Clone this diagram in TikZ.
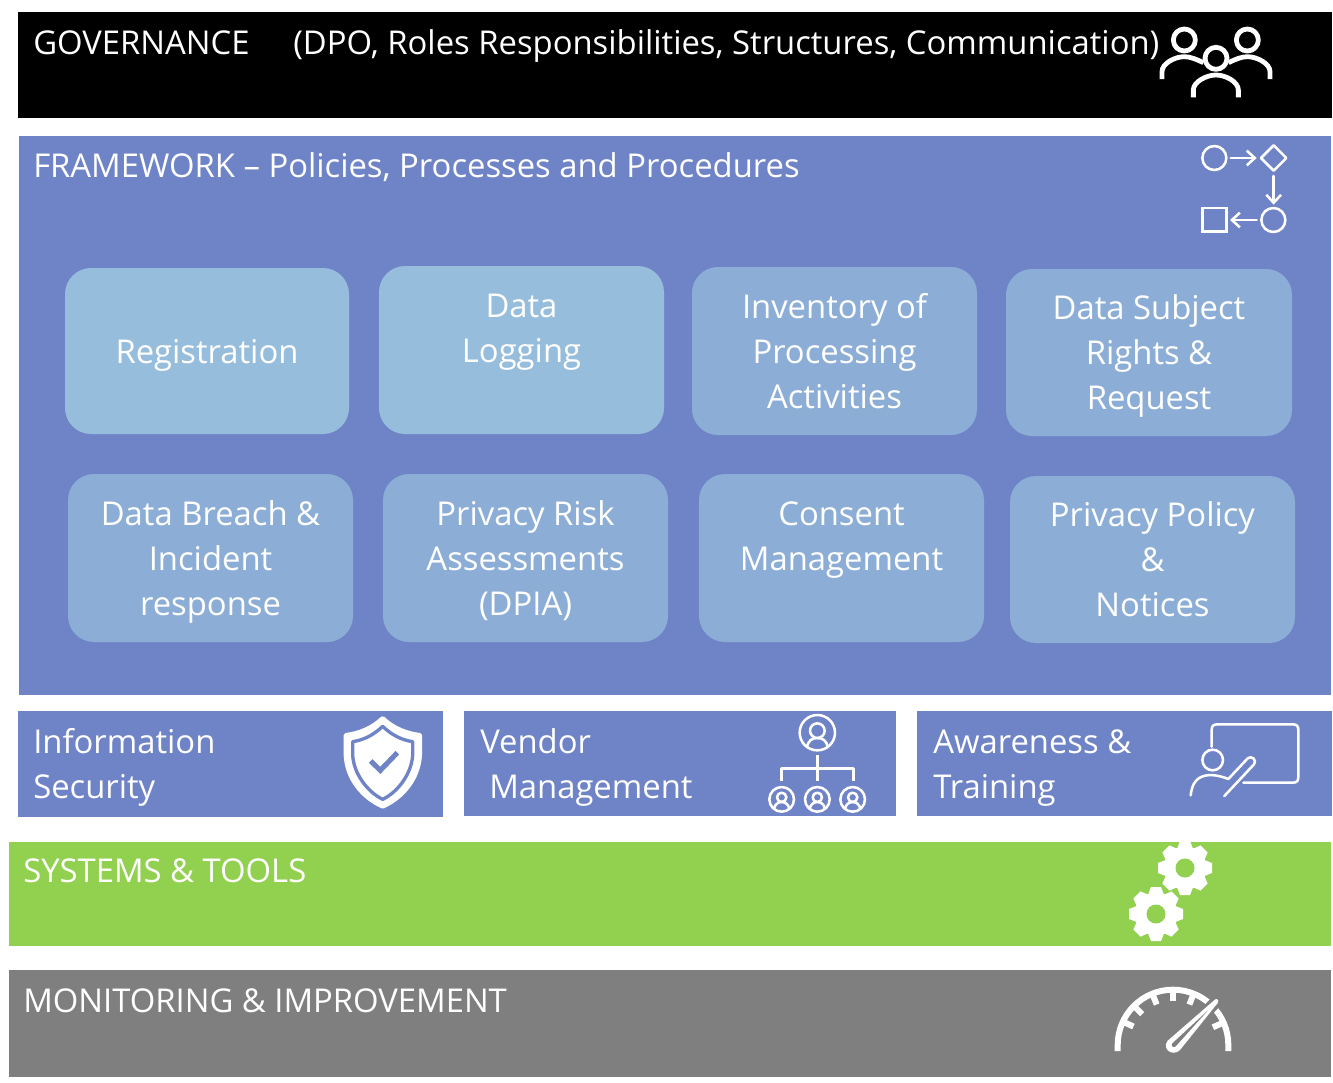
\documentclass[tikz,border=0pt]{standalone}
\usepackage{fontspec}
\setmainfont{Open Sans}
\usetikzlibrary{arrows.meta}
\definecolor{fw}{HTML}{6F83C7}
\definecolor{boxa}{HTML}{97BDDC}
\definecolor{boxb}{HTML}{8CAED6}
\definecolor{grn}{HTML}{92D050}
\definecolor{gry}{HTML}{7F7F7F}
\newcommand{\txt}{\fontsize{24.6}{33.75}\selectfont}
\newcommand{\st}{\vrule height 24pt depth 6pt width 0pt\relax}
\tikzset{
  bar/.style={draw=none,inner sep=0,anchor=north west,text=white},
  tile/.style={draw=none,inner sep=0,rounded corners=19.5pt,text=white,align=center,font=\txt,fill=boxb},
  lab/.style={inner sep=0,anchor=base west,text=white,font=\txt},
  lab2/.style={inner sep=0,anchor=west,text=white,font=\txt,align=left},
  icon/.style={draw=white,line width=1.9pt,line cap=round,line join=round},
  zoomA/.style={shift={(#1)},scale=0.33333},
  barb/.style={-{Straight Barb[length=6pt,width=11pt]}},
}
\newcommand{\mybar}[6]{% name, x1, y1, x2, y2, color
  \fill[#6] (#2,#3) rectangle (#4,#5);
  \coordinate (#1) at (#2,#3);}
\newcommand{\tile}[7]{% name x1 y1 x2 y2 color text
  \pgfmathsetmacro{\cx}{(#2+#4)/2}\pgfmathsetmacro{\cy}{(#3+#5)/2}
  \pgfmathsetmacro{\ww}{(#4-#2)*0.75}\pgfmathsetmacro{\hh}{(#5-#3)*0.75}
  \node[tile,fill=#6,minimum width=\ww pt,minimum height=\hh pt] (#1) at (\cx,\cy) {#7};}
\newcommand{\gear}[3]{% x y bg
  \begin{scope}[shift={(#1,#2)}]
    \fill[white] (0,0) circle (21.5);
    \foreach \a in {0,45,...,315}{
      \fill[white,rotate=\a] (18,-8.5) -- (27,-5) -- (27,5) -- (18,8.5) -- cycle;}
    \fill[#3] (0,0) circle (9.5);
  \end{scope}}
\begin{document}
\begin{tikzpicture}[x=0.75pt,y=-0.75pt]
\useasboundingbox (0,0) rectangle (1333,1082);
\fill[white] (0,0) rectangle (1333,1082);
% bars
\mybar{gov}{18}{12}{1332}{118}{black}
\mybar{frame}{19}{136}{1331}{695}{fw}
\mybar{sec}{18}{711}{443}{817}{fw}
\mybar{ven}{464}{711}{896}{816}{fw}
\mybar{awa}{917}{711}{1332}{816}{fw}
\mybar{sys}{9}{842}{1331}{946}{grn}
\mybar{mon}{9}{970}{1331}{1077}{gry}
% bar labels
\node[lab] (t1) at (33,54) {GOVERNANCE};
\node[lab] (t2) at (293,54) {(DPO, Roles Responsibilities, Structures, Communication)};
\node[lab] (t3) at (33,177) {FRAMEWORK – Policies, Processes and Procedures};
\node[lab2] (t4) at (33,763.5) {\st Information\\Security\st};
\node[lab2] (t5) at (480,763.5) {\st Vendor\\\hspace{6.75pt}Management\st};
\node[lab2] (t6) at (933,763.5) {\st Awareness \&\\Training\st};
\node[lab] (t7) at (23,882) {SYSTEMS \& TOOLS};
\node[lab] (t8) at (23,1012) {MONITORING \& IMPROVEMENT};
% tiles
\tile{a1}{65}{268}{349}{434}{boxa}{\st Registration\st}
\tile{a2}{379}{266}{664}{434}{boxa}{\st Data\\Logging\\\st}
\tile{a3}{692}{267}{977}{435}{boxb}{\st Inventory of\\Processing\\Activities\st}
\tile{a4}{1006}{269}{1292}{436}{boxb}{\st Data Subject\\Rights \&\\Request\st}
\tile{b1}{68}{474}{353}{642}{boxb}{\st Data Breach \&\\Incident\\response\st}
\tile{b2}{383}{474}{668}{642}{boxb}{\st Privacy Risk\\Assessments\\(DPIA)\st}
\tile{b3}{699}{474}{984}{642}{boxb}{\st Consent\\Management\\\st}
\tile{b4}{1010}{476}{1295}{643}{boxb}{\st Privacy Policy\\\&\\Notices\st}
% people icon
\begin{scope}[zoomA={1140,10},icon,line width=3.6pt,line cap=butt]
  \draw (133,90) circle (33);
  \draw (322,90) circle (33);
  \draw (228,145) circle (33);
  \draw (66,207) -- (66,185) .. controls (66,160) and (105,140) .. (133,140) .. controls (150,140) and (170,148) .. (190,158);
  \draw (390,207) -- (390,185) .. controls (390,160) and (350,140) .. (322,140) .. controls (305,140) and (285,148) .. (266,158);
  \draw (160,262) -- (160,240) .. controls (160,215) and (200,195) .. (228,195) .. controls (256,195) and (295,215) .. (295,240) -- (295,262);
\end{scope}
% process icon
\begin{scope}[zoomA={1140,10},icon]
  \draw (223,444) circle (36);
  \draw[barb] (272,444) -- (350,444);
  \draw (401,406) -- (439,444) -- (401,482) -- (363,444) -- cycle;
  \draw[barb] (401,498) -- (401,584);
  \draw (400,630) circle (36);
  \draw[barb] (350,630) -- (270,630);
  \draw[line cap=butt,line join=miter] (188,594) rectangle (260,665);
\end{scope}
% shield
\begin{scope}[zoomA={330,710}]
  \fill[white,draw=white,line width=3pt,line join=round] (158,24) .. controls (190,55) and (230,70) .. (270,75) -- (270,135) .. controls (266,205) and (220,262) .. (158,290) .. controls (96,262) and (50,205) .. (47,135) -- (47,75) .. controls (86,70) and (126,55) .. (158,24) -- cycle;
  \draw[fw,line width=2.5pt,line join=round] (158,49) .. controls (185,75) and (215,90) .. (248,95) -- (248,135) .. controls (245,190) and (205,245) .. (158,268) .. controls (111,245) and (71,190) .. (68,135) -- (68,95) .. controls (101,90) and (131,75) .. (158,49) -- cycle;
  \draw[fw,line width=3.8pt] (122,153) -- (151,181) -- (202,128);
\end{scope}
% org chart
\begin{scope}[zoomA={760,710},icon,line cap=butt]
  \draw (172,68) circle (53);
  \draw (172,62) circle (22);
  \draw (140,112) .. controls (145,92) and (155,84) .. (172,84) .. controls (189,84) and (199,92) .. (204,112);
  \draw (172,136) -- (172,212);
  \draw (65,214) -- (65,175) -- (280,175) -- (280,214);
  \foreach \x in {65,172,278}{
    \draw (\x,268) circle (37);
    \draw (\x,262) circle (14);
    \draw (\x-23,296) .. controls (\x-20,282) and (\x-10,276) .. (\x,276) .. controls (\x+10,276) and (\x+20,282) .. (\x+23,296);
  }
\end{scope}
% trainer
\begin{scope}[zoomA={1180,715},icon]
  \draw (95,95) -- (95,45) .. controls (95,33) and (100,28) .. (112,28) -- (338,28) .. controls (350,28) and (355,33) .. (355,45) -- (355,186) .. controls (355,198) and (350,203) .. (338,203) -- (190,203);
  \draw (98,135) circle (31);
  \draw (32,241) .. controls (36,205) and (50,182) .. (90,180) .. controls (110,180) and (130,186) .. (145,192) -- (203,130) .. controls (215,120) and (232,135) .. (222,148) -- (133,243);
\end{scope}
% gears
\gear{1185}{868}{grn}
\gear{1156}{914}{grn}
% gauge
\begin{scope}[zoomA={1105,975}]
  \draw[white,line width=4.5pt] (38,228) -- (38,210) arc[start angle=180,end angle=360,radius=166] -- (370,228);
  \foreach \a in {155,135,112,90,68,24}{
    \draw[white,line width=4.5pt] ({204+166*cos(\a)},{210-166*sin(\a)}) -- ({204+131*cos(\a)},{210-131*sin(\a)});}
  \draw[gry,line width=9pt] (210,205) -- (345,68);
  \fill[white] (335,72) .. controls (340,72) and (342,78) .. (338,84) -- (225,225) .. controls (205,245) and (170,225) .. (187,198) -- (325,78) .. controls (329,74) and (332,72) .. (335,72) -- cycle;
  \fill[gry] (310,105) -- (212,214) .. controls (205,220) and (196,212) .. (202,205) -- cycle;
\end{scope}
\end{tikzpicture}
\end{document}
